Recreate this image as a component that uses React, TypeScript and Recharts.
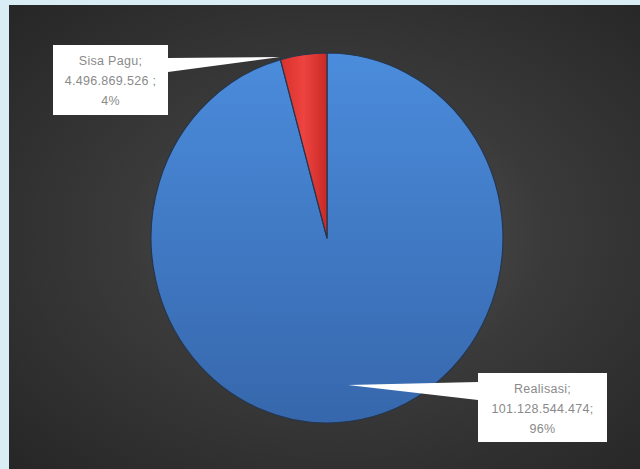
import React from "react";
import { PieChart, Pie, Cell } from "recharts";

const categories = ["Realisasi", "Sisa Pagu"];
const values = [101128544474, 4496869526];
const valueLabels = ["101.128.544.474;", "4.496.869.526 ;"];
const percentLabels = ["96%", "4%"];

const data = categories.map((name, i) => ({ name, value: values[i] }));
const fills = ["url(#blueGrad)", "url(#redGrad)"];

const Y_SCALE = 1.051;
const RAD = Math.PI / 180;

const EllipseSector = (props: any) => {
  const { cx, cy, outerRadius, startAngle, endAngle, fill } = props;
  const rx = outerRadius;
  const ry = outerRadius * Y_SCALE;
  const p = (a: number) => [cx + rx * Math.cos(-a * RAD), cy + ry * Math.sin(-a * RAD)];
  const [x1, y1] = p(startAngle);
  const [x2, y2] = p(endAngle);
  const large = Math.abs(endAngle - startAngle) > 180 ? 1 : 0;
  const sweep = startAngle > endAngle ? 1 : 0;
  const d = `M${cx},${cy} L${x1},${y1} A${rx},${ry} 0 ${large} ${sweep} ${x2},${y2} Z`;
  return <path d={d} fill={fill} stroke="#26364d" strokeWidth={1.2} strokeLinejoin="round" />;
};

const labelLayout = [
  // Realisasi
  { bx: 151, by: 135, bw: 129, bh: 69, tail: [[151, 144], [151, 162], [21, 147]] },
  // Sisa Pagu
  { bx: -274, by: -193, bw: 115, bh: 70, tail: [[-159, -180], [-159, -166], [-47, -181]] },
];

const renderLabel = (props: any) => {
  const { cx, cy, index } = props;
  const L = labelLayout[index];
  const x = cx + L.bx;
  const y = cy + L.by;
  const lines = [categories[index] + ";", valueLabels[index], percentLabels[index]];
  const pts = L.tail.map(([dx, dy]) => `${cx + dx},${cy + dy}`).join(" ");
  const tx = x + L.bw / 2;
  return (
    <g>
      <polygon points={pts} fill="#ffffff" />
      <rect x={x} y={y} width={L.bw} height={L.bh} fill="#ffffff" />
      {lines.map((t, i) => (
        <text
          key={i}
          x={tx}
          y={y + 17 + i * 20}
          textAnchor="middle"
          dominantBaseline="middle"
          fill="#8a8a8a"
          fontSize={12.5}
          letterSpacing={0.3}
          fontFamily="'Liberation Sans', Arial, sans-serif"
        >
          {t}
        </text>
      ))}
    </g>
  );
};

export default function App() {
  return (
    <div style={{ position: "absolute", left: 0, top: 0, width: 640, height: 469, background: "#d9edf5" }}>
      <div
        style={{
          position: "absolute",
          left: 9,
          top: 5,
          width: 631,
          height: 464,
          background: "radial-gradient(ellipse at 52% 50%, #565656 0%, #3a3a3a 45%, #262626 100%)",
        }}
      />
      <div style={{ position: "absolute", left: 0, top: 0 }}>
        <PieChart width={640} height={469} margin={{ top: 0, right: 0, bottom: 0, left: 0 }}>
          <defs>
            <linearGradient id="blueGrad" x1="0" y1="0" x2="0" y2="1">
              <stop offset="0%" stopColor="#4b8cdc" />
              <stop offset="100%" stopColor="#3667ac" />
            </linearGradient>
            <linearGradient id="redGrad" x1="0" y1="0" x2="1" y2="0">
              <stop offset="0%" stopColor="#d8312c" />
              <stop offset="50%" stopColor="#ee4340" />
              <stop offset="100%" stopColor="#c92a26" />
            </linearGradient>
          </defs>
          <Pie
            data={data}
            dataKey="value"
            nameKey="name"
            cx={327}
            cy={238}
            outerRadius={176}
            startAngle={90}
            endAngle={-270}
            stroke="none"
            shape={EllipseSector}
            label={renderLabel}
            labelLine={false}
            isAnimationActive={false}
          >
            {data.map((d, i) => (
              <Cell key={d.name} fill={fills[i]} />
            ))}
          </Pie>
        </PieChart>
      </div>
    </div>
  );
}
